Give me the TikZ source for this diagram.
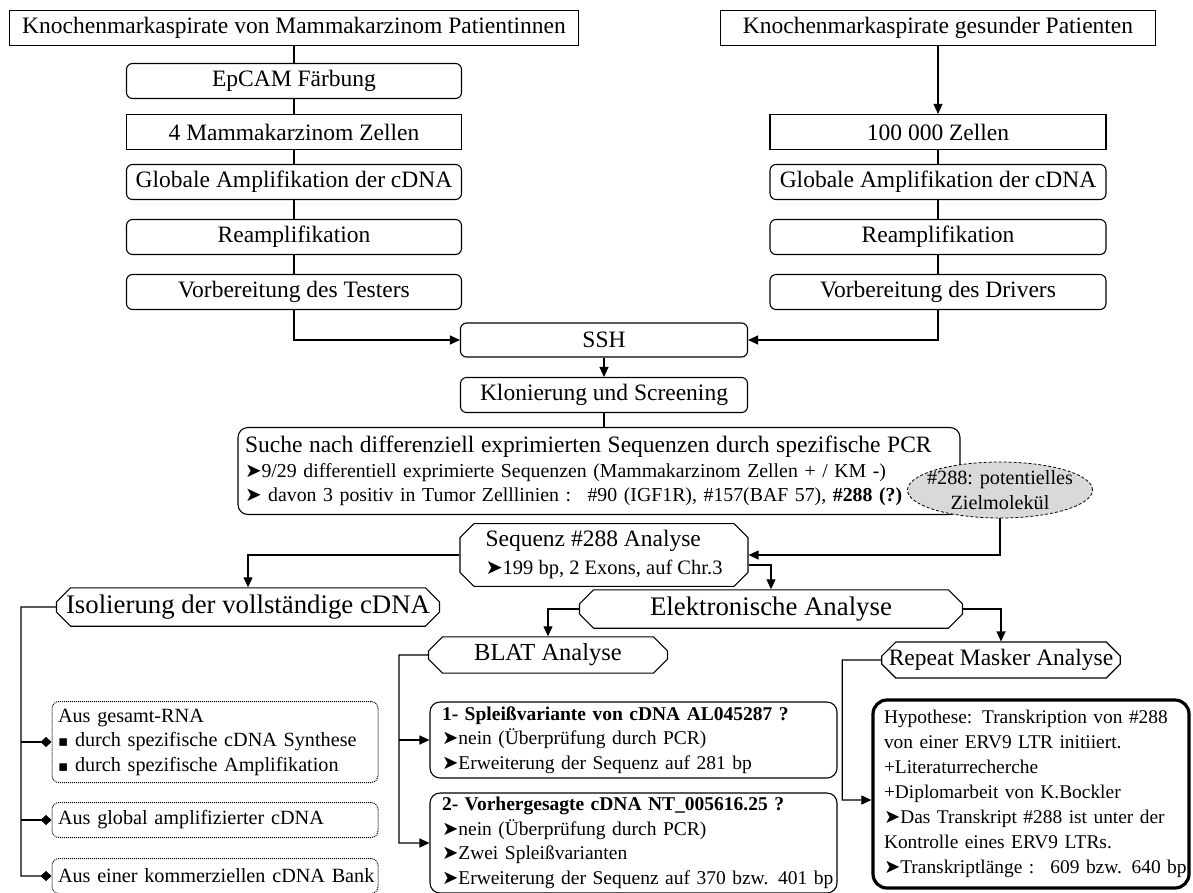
\documentclass[tikz,border=0pt]{standalone}
\usepackage{fontspec}
\setmainfont{Liberation Serif}
\newfontfamily\symfont{DejaVu Sans}
\usetikzlibrary{
    arrows.meta,      % for the triangle and diamond tips
    positioning,      % for placing nodes relative to other nodes
    shapes.geometric, % ellipse
    shapes.misc       % chamfered boxes
}

\newcommand{\fgross}{\fontsize{23.5}{28}\selectfont}
\newcommand{\fsehrgross}{\fontsize{26.8}{30}\selectfont}
\newcommand{\fklein}{\fontsize{20.2}{24.5}\selectfont}
\newcommand{\fkleiner}{\fontsize{19.5}{24.5}\selectfont}
\newcommand{\pfeil}{{\symfont ➤}}
\newcommand{\punkt}{{\symfont\scalebox{0.75}{▪}}}

\begin{document}
\begin{tikzpicture}[
    x=1pt,y=-1pt,on grid,>={Triangle[length=10pt,width=9pt]},
    every node/.style  = {inner sep=0pt},
    kasten/.style      = {draw,line width=1.1pt,minimum height=35pt,font=\fgross},
    rundkasten/.style  = {kasten,rounded corners=6pt},
    eckkasten/.style   = {kasten,chamfered rectangle,chamfered rectangle xsep=7pt,chamfered rectangle ysep=7pt},
    punktkasten/.style = {draw,densely dotted,line width=1pt,rounded corners=7pt,minimum width=326pt,minimum height=35pt,
                          text width=314pt,inner xsep=6pt,align=left,font=\fklein},
    textkasten/.style  = {draw,line width=1.1pt,rounded corners=10pt,align=left,font=\fkleiner},
    linie/.style       = {line width=1.1pt},
    raute/.style       = {line width=1.1pt,-{Diamond[length=11pt,width=10pt]}}
]
\path [use as bounding box,fill=white] (0,0) rectangle (1193,892);

% Tester (links)

    \node [kasten,minimum width=569pt]     (quelleL) at (294,28)         {Knochenmarkaspirate von Mammakarzinom Patientinnen};
    \node [rundkasten,minimum width=335pt] (epcam)   at (294,81)         {EpCAM Färbung};
    \node [kasten,minimum width=335pt]     (zellenL) [below=51pt of epcam]   {4 Mammakarzinom Zellen};
    \node [rundkasten,minimum width=335pt] (amplL)   [below=50pt of zellenL] {Globale Amplifikation der cDNA};
    \node [rundkasten,minimum width=335pt] (reamplL) [below=55pt of amplL]   {Reamplifikation};
    \node [rundkasten,minimum width=335pt] (tester)  [below=55pt of reamplL] {Vorbereitung des Testers};

% Driver (rechts)

    \node [kasten,minimum width=435pt]     (quelleR) at (938,28)              {Knochenmarkaspirate gesunder Patienten};
    \node [kasten,minimum width=336pt]     (zellenR) [right=644pt of zellenL] {100 000 Zellen};
    \node [rundkasten,minimum width=336pt] (amplR)   [right=644pt of amplL]   {Globale Amplifikation der cDNA};
    \node [rundkasten,minimum width=336pt] (reamplR) [right=644pt of reamplL] {Reamplifikation};
    \node [rundkasten,minimum width=336pt] (driver)  [right=644pt of tester]  {Vorbereitung des Drivers};

% SSH und Screening

    \node [rundkasten,minimum width=287pt,minimum height=34pt] (ssh)  at (604,340)        {SSH};
    \node [rundkasten,minimum width=287pt]                     (klon) [below=55pt of ssh] {Klonierung und Screening};
    \node [rundkasten,rounded corners=10pt,minimum width=722pt,minimum height=87pt,text width=708pt,inner xsep=7pt,
           align=left,font=\fontsize{19.8}{24.5}\selectfont] (suche) at (599,471)
        {{\fgross Suche nach differenziell exprimierten Sequenzen durch spezifische PCR}\\
         \pfeil9/29 differentiell exprimierte Sequenzen (Mammakarzinom Zellen + / KM -)\\
         \pfeil{} davon 3 positiv in Tumor Zelllinien :~ \#90 (IGF1R), \#157(BAF 57), \textbf{\#288 (?)}};
    \node [ellipse,draw,densely dashed,line width=0.8pt,fill=gray!30,minimum width=185pt,minimum height=56pt,
           inner xsep=-20pt,inner ysep=-10pt,align=center,font=\fklein] (ziel) at (1000,490) {\#288: potentielles\\Zielmolekül};

% Analyse von #288

    \node [eckkasten,minimum width=288pt,minimum height=53pt,align=left] (sequenz) at (604,555)
        {Sequenz \#288 Analyse\\{\fontsize{20.5}{24}\selectfont\pfeil199 bp, 2 Exons, auf Chr.3}};
    \node [eckkasten,minimum width=383pt,minimum height=37pt,font=\fsehrgross] (isol)    at (248,607)  {Isolierung der vollständige cDNA};
    \node [eckkasten,minimum width=383pt,minimum height=36pt,font=\fsehrgross] (elektro) at (771,609)  {Elektronische Analyse};
    \node [eckkasten,minimum width=239pt,minimum height=36pt,font=\fontsize{24.5}{28}\selectfont] (blat) at (548,655) {BLAT Analyse};
    \node [eckkasten,minimum width=238pt,minimum height=36pt]                  (repeat)  at (1001,660) {Repeat Masker Analyse};

    \node [punktkasten,minimum height=81pt] (aus1) at (215,742)
        {Aus gesamt-RNA\\\punkt{} durch spezifische cDNA Synthese\\\punkt{} durch spezifische Amplifikation};
    \node [punktkasten] (aus2) at (215,820) {Aus global amplifizierter cDNA};
    \node [punktkasten] (aus3) at (215,876) {\mbox{Aus einer kommerziellen cDNA Bank}};

    \node [textkasten,minimum width=407pt,minimum height=76pt,text width=383pt,inner xsep=12pt] (spleiss) at (633.5,740)
        {\textbf{1- Spleißvariante von cDNA AL045287 ?}\\
         \pfeil nein (Überprüfung durch PCR)\\
         \pfeil Erweiterung der Sequenz auf 281 bp};
    \node [textkasten,minimum width=407pt,minimum height=100pt,text width=383pt,inner xsep=12pt] (vorher) at (633.5,843)
        {\textbf{2- Vorhergesagte cDNA NT\_005616.25 ?}\\
         \pfeil nein (Überprüfung durch PCR)\\
         \pfeil Zwei Spleißvarianten\\
         \mbox{\pfeil Erweiterung der Sequenz auf 370 bzw. 401 bp}};
    \node [textkasten,line width=3.2pt,rounded corners=14pt,minimum width=316pt,minimum height=188pt,
           text width=294pt,inner xsep=11pt,font=\fontsize{19.4}{25}\selectfont] (hypo) at (1031,794)
        {\mbox{Hypothese: Transkription von \#288}\\
         von einer ERV9 LTR initiiert.\\
         +Literaturrecherche\\
         +Diplomarbeit von K.Bockler\\
         \makebox[294pt][s]{\pfeil Das Transkript \#288 ist unter der}\\
         Kontrolle eines ERV9 LTRs.\\
         \mbox{\pfeil Transkriptlänge :~ 609 bzw. 640 bp}};

% Verbindungen

    \draw [linie] (quelleL) -- (epcam) -- (zellenL) -- (amplL) -- (reamplL) -- (tester);
    \draw [linie,->] (tester) |- (ssh);
    \draw [linie,->] (quelleR) -- (zellenR);
    \draw [linie] (zellenR) -- (amplR) -- (reamplR) -- (driver);
    \draw [linie,->] (driver) |- (ssh);
    \draw [linie,->] (ssh) -- (klon);
    \draw [linie] (klon) -- (klon |- suche.north);
    \draw [linie,->] (ziel) |- (sequenz);
    \draw [linie,->] (sequenz) -| (isol);
    \draw [linie,->] ([yshift=-10pt]sequenz.east) -| (elektro);
    \draw [linie,->] (elektro) -| (blat);
    \draw [linie,->] (elektro) -| (repeat);

    \coordinate [left=35pt of isol.west]   (knickI);
    \coordinate [left=29pt of blat.west]   (knickB);
    \coordinate [left=39pt of repeat.west] (knickR);

    \draw [raute] (isol) -- (knickI) |- (aus3);
    \draw [raute] (knickI |- aus1) -- (aus1);
    \draw [raute] (knickI |- aus2) -- (aus2);
    \draw [linie,->] (blat) -- (knickB) |- (vorher);
    \draw [linie,->] (knickB |- spleiss) -- (spleiss);
    \draw [linie,->] (repeat) -- (knickR) |- ([yshift=-6pt]hypo.west);

\end{tikzpicture}
\end{document}
